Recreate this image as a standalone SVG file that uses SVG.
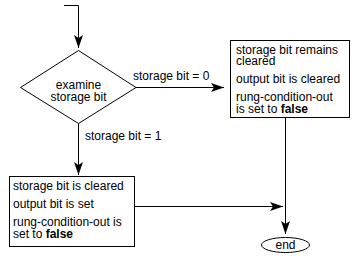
<svg xmlns="http://www.w3.org/2000/svg" width="358" height="258" viewBox="0 0 358 258">
<style>
text{font-family:"Liberation Sans",Arial,sans-serif;font-size:12px;fill:#000}
.shape{fill:#fff;stroke:#000;stroke-width:1}
.conn{fill:none;stroke:#000;stroke-width:1}
.b{font-weight:bold}
</style>
<defs>
<marker id="arr" markerUnits="userSpaceOnUse" markerWidth="16" markerHeight="10" viewBox="-14 -5 16 10" refX="0" refY="0" orient="auto">
<path d="M0,0 L-13,-4.5 L-10,0 L-13,4.5 Z" fill="#000"/>
</marker>
</defs>
<rect width="358" height="258" fill="#fff"/>
<g id="connectors">
<path class="conn" d="M64,5.5 H78.5 V48" marker-end="url(#arr)"/>
<path class="conn" d="M136,87.5 H224" marker-end="url(#arr)"/>
<path class="conn" d="M78.5,123 V175" marker-end="url(#arr)"/>
<path class="conn" d="M285.5,118 V234" marker-end="url(#arr)"/>
<path class="conn" d="M135,206.5 H283" marker-end="url(#arr)"/>
<text x="133" y="80">storage bit = 0</text>
<text x="85" y="140">storage bit = 1</text>
</g>
<g id="decision">
<polygon class="shape" points="78.5,50.5 136,87.5 78.5,123.5 20.5,87.5"/>
<text x="78.5" y="89" text-anchor="middle">examine</text>
<text x="78.5" y="101" text-anchor="middle">storage bit</text>
</g>
<g id="box-cleared">
<rect class="shape" x="230.5" y="40.5" width="119" height="77"/>
<text x="236" y="54">storage bit remains</text>
<text x="236" y="65">cleared</text>
<text x="236" y="83">output bit is cleared</text>
<text x="236" y="101">rung-condition-out</text>
<text x="236" y="112.5">is set to <tspan class="b">false</tspan></text>
</g>
<g id="box-set">
<rect class="shape" x="9.5" y="176.5" width="125" height="70"/>
<text x="13" y="190">storage bit is cleared</text>
<text x="13" y="208">output bit is set</text>
<text x="13" y="226">rung-condition-out is</text>
<text x="13" y="237.5">set to <tspan class="b">false</tspan></text>
</g>
<g id="end">
<ellipse class="shape" cx="285.5" cy="245" rx="24" ry="7.5"/>
<text x="285.5" y="249" text-anchor="middle">end</text>
</g>
</svg>
